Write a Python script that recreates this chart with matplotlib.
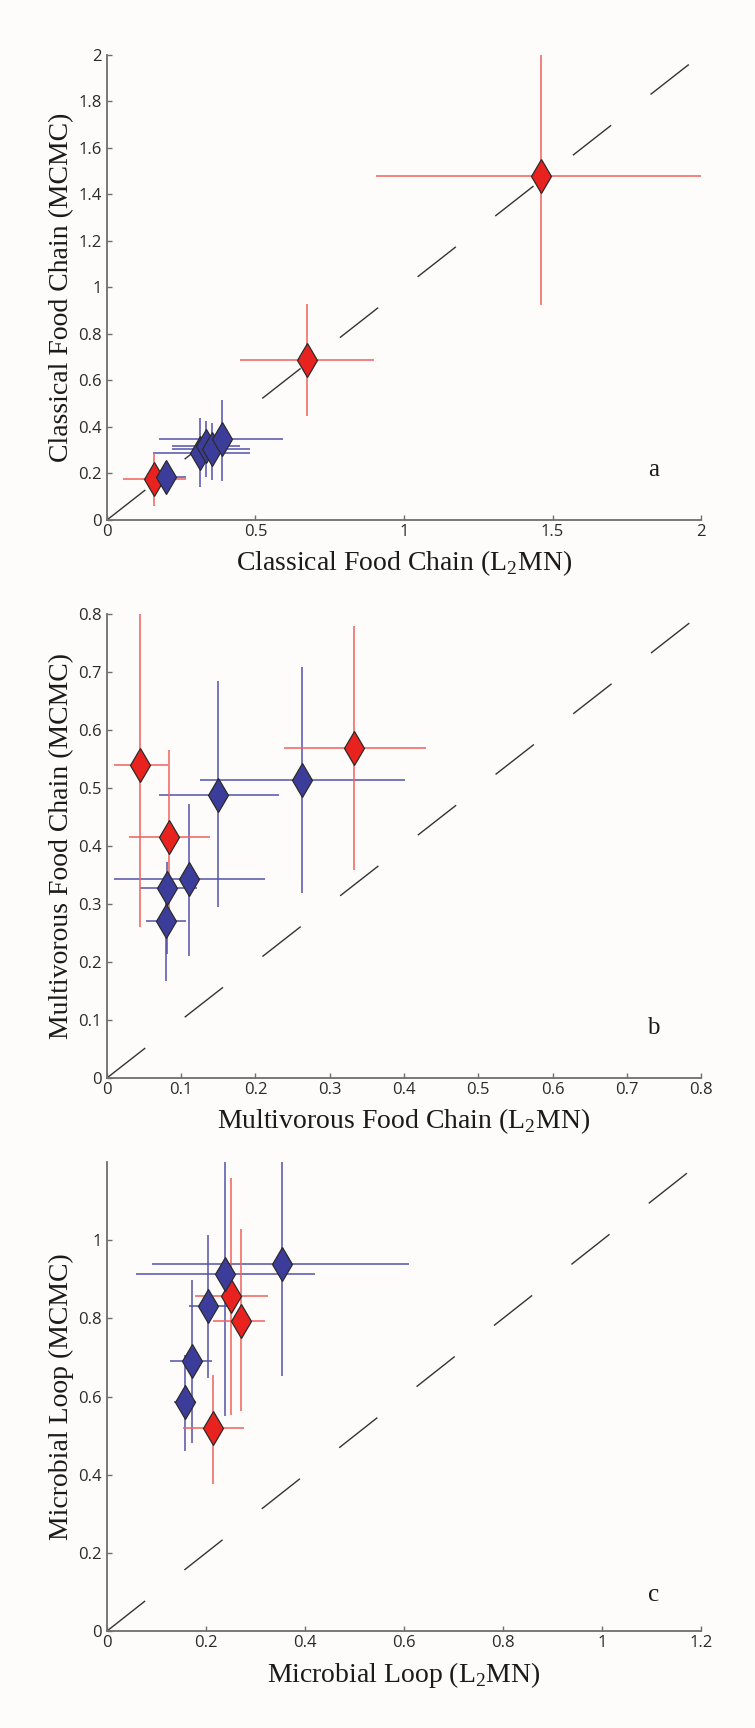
import matplotlib
matplotlib.use("Agg")
import matplotlib.pyplot as plt
import numpy as np

# ---------------------------------------------------------------------------
# Data (value, low and high end of each error bar)
# ---------------------------------------------------------------------------

# panel a: classical food chain
a_red_x = [0.158, 0.675, 1.46]
a_red_y = [0.178, 0.690, 1.478]
a_red_xlo = [0.055, 0.448, 0.905]
a_red_xhi = [0.265, 0.900, 2.000]
a_red_ylo = [0.061, 0.449, 0.923]
a_red_yhi = [0.288, 0.930, 2.000]

a_blue_x = [0.200, 0.313, 0.333, 0.352, 0.386]
a_blue_y = [0.186, 0.290, 0.318, 0.305, 0.348]
a_blue_xlo = [0.154, 0.156, 0.218, 0.218, 0.175]
a_blue_xhi = [0.265, 0.481, 0.448, 0.481, 0.591]
a_blue_ylo = [0.140, 0.143, 0.186, 0.172, 0.168]
a_blue_yhi = [0.230, 0.437, 0.425, 0.418, 0.518]

# panel b: multivorous food chain
b_red_x = [0.045, 0.083, 0.333]
b_red_y = [0.539, 0.416, 0.569]
b_red_xlo = [0.009, 0.030, 0.239]
b_red_xhi = [0.082, 0.139, 0.430]
b_red_ylo = [0.260, 0.270, 0.358]
b_red_yhi = [0.800, 0.566, 0.779]

b_blue_x = [0.150, 0.263, 0.110, 0.081, 0.079]
b_blue_y = [0.488, 0.514, 0.343, 0.328, 0.271]
b_blue_xlo = [0.070, 0.125, 0.010, 0.044, 0.052]
b_blue_xhi = [0.232, 0.401, 0.213, 0.121, 0.106]
b_blue_ylo = [0.295, 0.319, 0.211, 0.214, 0.167]
b_blue_yhi = [0.685, 0.709, 0.472, 0.373, 0.319]

# panel c: microbial loop
c_red_x = [0.251, 0.270, 0.214]
c_red_y = [0.858, 0.793, 0.520]
c_red_xlo = [0.177, 0.214, 0.153]
c_red_xhi = [0.326, 0.320, 0.276]
c_red_ylo = [0.554, 0.563, 0.376]
c_red_yhi = [1.160, 1.028, 0.656]

c_blue_x = [0.354, 0.239, 0.204, 0.171, 0.157]
c_blue_y = [0.940, 0.914, 0.831, 0.690, 0.587]
c_blue_xlo = [0.091, 0.058, 0.165, 0.128, 0.136]
c_blue_xhi = [0.610, 0.420, 0.243, 0.212, 0.179]
c_blue_ylo = [0.652, 0.550, 0.648, 0.482, 0.461]
c_blue_yhi = [1.250, 1.250, 1.014, 0.899, 0.707]

# ticks
a_xticks = [0, 0.5, 1, 1.5, 2]
a_xticklabels = ["0", "0.5", "1", "1.5", "2"]
a_yticks = [0, 0.2, 0.4, 0.6, 0.8, 1, 1.2, 1.4, 1.6, 1.8, 2]
a_yticklabels = ["0", "0.2", "0.4", "0.6", "0.8", "1", "1.2", "1.4", "1.6", "1.8", "2"]
b_ticks = [0, 0.1, 0.2, 0.3, 0.4, 0.5, 0.6, 0.7, 0.8]
b_ticklabels = ["0", "0.1", "0.2", "0.3", "0.4", "0.5", "0.6", "0.7", "0.8"]
c_xticks = [0, 0.2, 0.4, 0.6, 0.8, 1, 1.2]
c_xticklabels = ["0", "0.2", "0.4", "0.6", "0.8", "1", "1.2"]
c_yticks = [0, 0.2, 0.4, 0.6, 0.8, 1]
c_yticklabels = ["0", "0.2", "0.4", "0.6", "0.8", "1"]

# ---------------------------------------------------------------------------

BG = "#fdfcfa"
RED = "#e8231f"
RED_BAR = "#f0625c"
BLUE = "#3c3d9b"
BLUE_BAR = "#5252a8"
SPINE = "#6e6e6e"

plt.rcParams["lines.scale_dashes"] = False
plt.rcParams["mathtext.fontset"] = "custom"
plt.rcParams["mathtext.rm"] = "Liberation Serif"
serif = ["Liberation Serif", "DejaVu Serif"]
sans = ["Open Sans", "DejaVu Sans"]


def draw_panel(ax, red, blue, lim, xticks, xticklabels, yticks, yticklabels,
               xlabel, ylabel, letter, letter_y):
    ax.set_facecolor(BG)
    # 1:1 line
    ax.plot([0, lim], [0, lim], color="#333333", lw=1.0, dashes=(35, 36), zorder=1)

    for (x, y, xlo, xhi, ylo, yhi), col in ((blue, BLUE_BAR), (red, RED_BAR)):
        x = np.array(x); y = np.array(y)
        xerr = [x - np.array(xlo), np.array(xhi) - x]
        yerr = [y - np.array(ylo), np.array(yhi) - y]
        ax.errorbar(x, y, xerr=xerr, yerr=yerr, fmt="none", ecolor=col,
                    elinewidth=1.1, capsize=0, zorder=2)

    ax.plot(red[0], red[1], linestyle="none", marker="d", ms=17,
            mfc=RED, mec="#2b2b2b", mew=0.9, zorder=3)
    ax.plot(blue[0], blue[1], linestyle="none", marker="d", ms=17,
            mfc=BLUE, mec="#2b2b2b", mew=0.9, zorder=4)

    ax.set_xlim(0, lim)
    ax.set_ylim(0, lim)
    ax.set_xticks(xticks)
    ax.set_xticklabels(xticklabels, family=sans, fontsize=12, color="#2a2a2a")
    ax.set_yticks(yticks)
    ax.set_yticklabels(yticklabels, family=sans, fontsize=12, color="#2a2a2a")
    ax.tick_params(direction="in", length=3.5, width=1.0, color=SPINE)
    ax.tick_params(axis="x", pad=3)
    ax.tick_params(axis="y", pad=4)
    for s in ("top", "right"):
        ax.spines[s].set_visible(False)
    for s in ("left", "bottom"):
        ax.spines[s].set_color(SPINE)
        ax.spines[s].set_linewidth(1.3)

    ax.set_xlabel(xlabel, family=serif, fontsize=20, color="#1a1a1a", labelpad=6)
    ax.set_ylabel(ylabel, family=serif, fontsize=20, color="#1a1a1a", labelpad=3)
    ax.text(0.92, letter_y, letter, transform=ax.transAxes, family=serif,
            fontsize=18, ha="center", va="center", color="#1a1a1a")


fig = plt.figure(figsize=(7.55, 17.28), dpi=100, facecolor=BG)
left, width = 0.1417, 0.7868
ax_a = fig.add_axes([left, 0.6991, width, 0.2691])
ax_b = fig.add_axes([left, 0.3762, width, 0.2685])
ax_c = fig.add_axes([left, 0.0561, width, 0.2714])

draw_panel(ax_a,
           (a_red_x, a_red_y, a_red_xlo, a_red_xhi, a_red_ylo, a_red_yhi),
           (a_blue_x, a_blue_y, a_blue_xlo, a_blue_xhi, a_blue_ylo, a_blue_yhi),
           2, a_xticks, a_xticklabels, a_yticks, a_yticklabels,
           r"Classical Food Chain (L$_\mathrm{2}$MN)",
           "Classical Food Chain (MCMC)", "a", 0.107)
draw_panel(ax_b,
           (b_red_x, b_red_y, b_red_xlo, b_red_xhi, b_red_ylo, b_red_yhi),
           (b_blue_x, b_blue_y, b_blue_xlo, b_blue_xhi, b_blue_ylo, b_blue_yhi),
           0.8, b_ticks, b_ticklabels, b_ticks, b_ticklabels,
           r"Multivorous Food Chain (L$_\mathrm{2}$MN)",
           "Multivorous Food Chain (MCMC)", "b", 0.108)
draw_panel(ax_c,
           (c_red_x, c_red_y, c_red_xlo, c_red_xhi, c_red_ylo, c_red_yhi),
           (c_blue_x, c_blue_y, c_blue_xlo, c_blue_xhi, c_blue_ylo, c_blue_yhi),
           1.2, c_xticks, c_xticklabels, c_yticks, c_yticklabels,
           r"Microbial Loop (L$_\mathrm{2}$MN)",
           "Microbial Loop (MCMC)", "c", 0.077)

fig.savefig("out.png", dpi=100, facecolor=BG)
